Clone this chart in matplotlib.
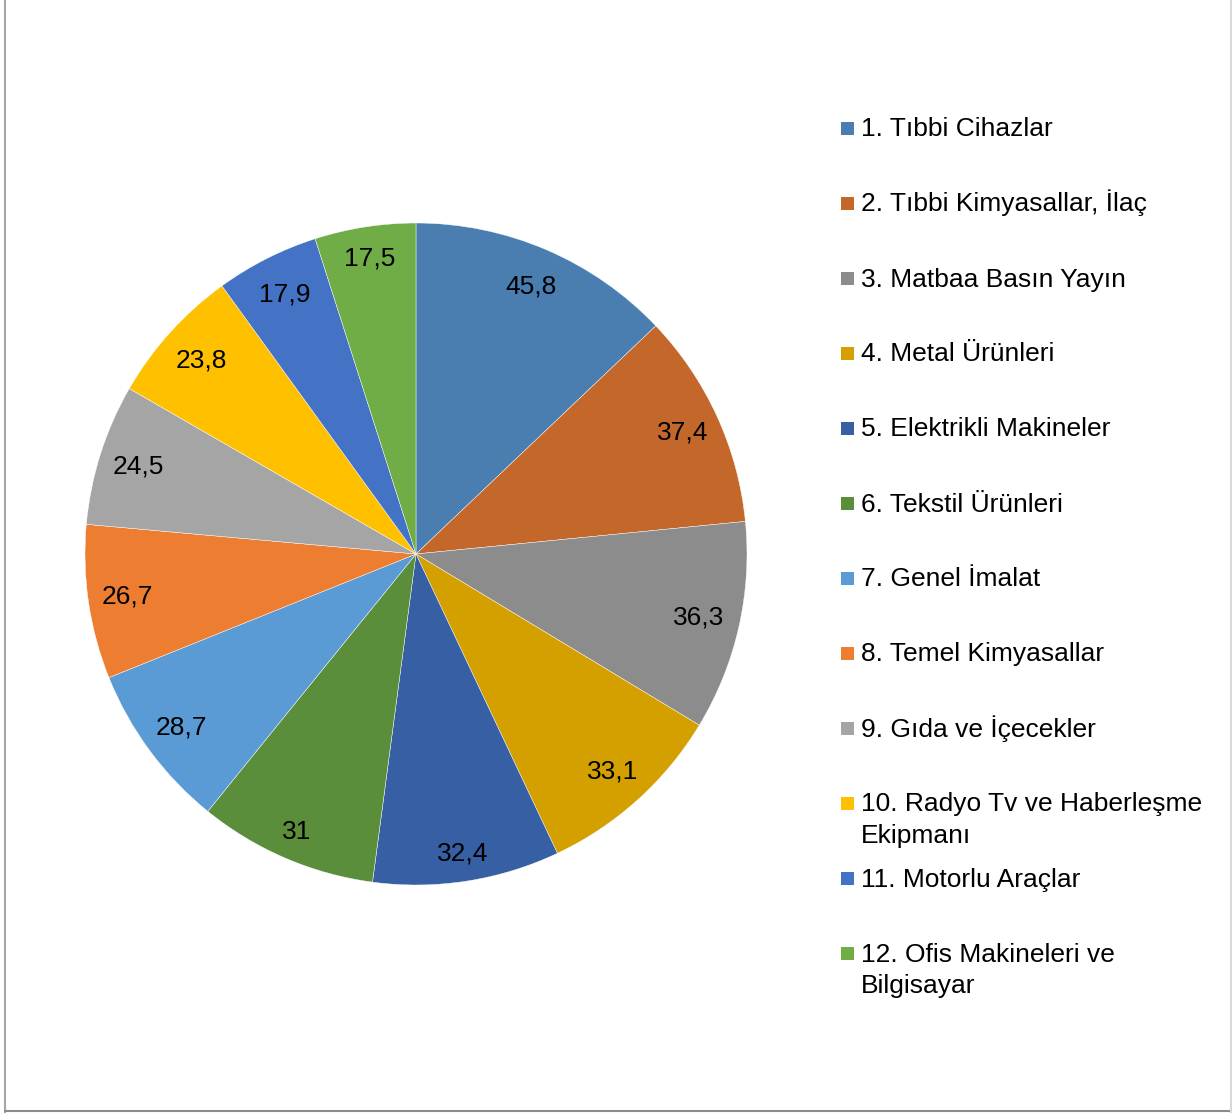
import numpy as np
import matplotlib.pyplot as plt
from matplotlib.lines import Line2D
from matplotlib.patches import Rectangle

plt.rcParams['font.family'] = ['Liberation Sans', 'DejaVu Sans']

# sector names and values
categories = ['1. Tıbbi Cihazlar', '2. Tıbbi Kimyasallar, İlaç', '3. Matbaa Basın Yayın',
              '4. Metal Ürünleri', '5. Elektrikli Makineler', '6. Tekstil Ürünleri',
              '7. Genel İmalat', '8. Temel Kimyasallar', '9. Gıda ve İçecekler',
              '10. Radyo Tv ve Haberleşme\nEkipmanı', '11. Motorlu Araçlar',
              '12. Ofis Makineleri ve\nBilgisayar']
values = [45.8, 37.4, 36.3, 33.1, 32.4, 31, 28.7, 26.7, 24.5, 23.8, 17.9, 17.5]
value_labels = ['45,8', '37,4', '36,3', '33,1', '32,4', '31', '28,7', '26,7', '24,5', '23,8', '17,9', '17,5']
colors = ['#4A7EB0', '#C4672A', '#8C8C8C', '#D4A000', '#375FA3', '#5A8E3A',
          '#5B9BD5', '#ED7D31', '#A5A5A5', '#FFC000', '#4472C4', '#70AD47']

# label distance from centre (fraction of radius), Excel "best fit" look
label_dist = [0.88, 0.885, 0.875, 0.885, 0.915, 0.915, 0.88, 0.88, 0.88, 0.875, 0.88, 0.905]

W, H = 1232, 1113
fig = plt.figure(figsize=(W / 100, H / 100), dpi=100)

# pie centre (416, 554) px, radius 331 px
cx, cy, r = 416, 554, 331
ax = fig.add_axes([(cx - r) / W, (H - cy - r) / H, 2 * r / W, 2 * r / H])
wedges, texts = ax.pie(values, labels=value_labels, colors=colors, startangle=90,
                       counterclock=False, labeldistance=0.88,
                       wedgeprops=dict(edgecolor='white', linewidth=0.3),
                       textprops=dict(fontsize=19, color='black'))
for w, t, d in zip(wedges, texts, label_dist):
    ang = np.deg2rad((w.theta1 + w.theta2) / 2)
    t.set_position((d * np.cos(ang), d * np.sin(ang)))
    t.set_ha('center')
    t.set_va('center')
ax.set_xlim(-1, 1)
ax.set_ylim(-1, 1)
ax.set_aspect('auto')
ax.axis('off')

# legend drawn by hand to keep Excel-like spacing
for i, (name, col) in enumerate(zip(categories, colors)):
    base = 136.5 + 75 * i
    fig.add_artist(Rectangle((841 / W, 1 - (base - 1.5) / H), 13 / W, 13 / H,
                             transform=fig.transFigure, facecolor=col, edgecolor='none'))
    for j, line in enumerate(name.split('\n')):
        fig.text(861 / W, 1 - (base + 32 * j) / H, line, fontsize=19,
                 ha='left', va='baseline', color='black')

# outer frame (only partly visible in the original)
fig.add_artist(Line2D([4.5 / W, 4.5 / W], [0, 1], transform=fig.transFigure,
                      color='#A6A6A6', linewidth=1.5))
fig.add_artist(Line2D([4.5 / W, 1], [1 - 1111 / H, 1 - 1111 / H], transform=fig.transFigure,
                      color='#8C8C8C', linewidth=1.5))
fig.add_artist(Line2D([1231 / W, 1231 / W], [0, 1], transform=fig.transFigure,
                      color='#D9D9D9', linewidth=1.5))

fig.savefig('out.png', dpi=100)
